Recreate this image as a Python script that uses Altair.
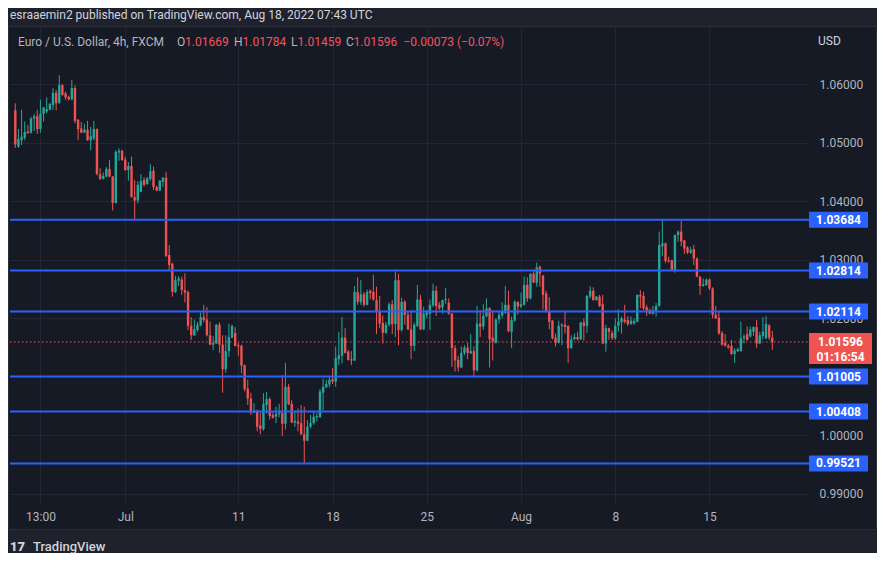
import altair as alt
import pandas as pd

# ---------------- data ----------------
opens = [
    1.0555, 1.0493, 1.0504, 1.0508, 1.0519, 1.0517, 1.0541, 1.0545, 1.0523, 1.0549,
    1.0553, 1.0556, 1.0564, 1.0585, 1.0568, 1.0598, 1.0584, 1.0578, 1.0574, 1.0593,
    1.0539, 1.0524, 1.0517, 1.0522, 1.0504, 1.0507, 1.0523, 1.0446, 1.0438, 1.0442,
    1.0455, 1.0442, 1.0397, 1.0483, 1.0486, 1.0471, 1.0453, 1.0460, 1.0407, 1.0401,
    1.0416, 1.0436, 1.0429, 1.0438, 1.0452, 1.0424, 1.0418, 1.0433, 1.0440, 1.0308,
    1.0293, 1.0245, 1.0264, 1.0266, 1.0248, 1.0245,
    1.0187, 1.0171, 1.0180, 1.0188, 1.0202, 1.0198, 1.0171, 1.0155, 1.0157, 1.0189,
    1.0155, 1.0113, 1.0144, 1.0167, 1.0175, 1.0154, 1.0153, 1.0120, 1.0080, 1.0063,
    1.0039, 1.0042, 1.0017, 1.0011, 1.0052, 1.0062, 1.0035, 1.0032, 1.0037, 1.0038,
    1.0020, 1.0083, 1.0054, 1.0022, 1.0024, 1.0021, 1.0002, 0.9991, 1.0015, 1.0021,
    1.0031, 1.0031, 1.0073, 1.0082, 1.0087, 1.0096, 1.0092, 1.0130, 1.0136, 1.0167,
    1.0143,
    1.0130, 1.0128, 1.0245, 1.0228, 1.0241, 1.0223, 1.0247, 1.0245, 1.0231, 1.0211,
    1.0192, 1.0175, 1.0189, 1.0224, 1.0190, 1.0265, 1.0180, 1.0228, 1.0206, 1.0181,
    1.0153, 1.0187, 1.0232, 1.0181, 1.0206, 1.0208, 1.0222, 1.0247, 1.0223, 1.0219,
    1.0231, 1.0227, 1.0208, 1.0149, 1.0129, 1.0116, 1.0141, 1.0150, 1.0140, 1.0144,
    1.0111, 1.0191, 1.0186, 1.0203, 1.0217, 1.0167, 1.0158, 1.0198, 1.0205, 1.0209,
    1.0223, 1.0177, 1.0196, 1.0228, 1.0220, 1.0223, 1.0257, 1.0234, 1.0276, 1.0261,
    1.0288, 1.0273, 1.0242, 1.0211, 1.0196, 1.0167, 1.0158, 1.0187, 1.0189, 1.0187,
    1.0149, 1.0164, 1.0168, 1.0164, 1.0193, 1.0187, 1.0237, 1.0247, 1.0231, 1.0237,
    1.0224, 1.0157, 1.0183, 1.0175, 1.0166, 1.0187, 1.0193, 1.0198, 1.0197, 1.0190,
    1.0191, 1.0194, 1.0240, 1.0238, 1.0219, 1.0214, 1.0208, 1.0213, 1.0221, 1.0323,
    1.0328, 1.0299, 1.0299, 1.0282, 1.0342, 1.0348, 1.0333, 1.0321, 1.0312, 1.0318,
    1.0302, 1.0271, 1.0255, 1.0257, 1.0266, 1.0251,
    1.0206, 1.0201, 1.0175, 1.0158, 1.0153, 1.0153, 1.0139, 1.0144, 1.0144, 1.0166,
    1.0173, 1.0169, 1.0177, 1.0185, 1.0157, 1.0170, 1.0166, 1.0188, 1.01669,
]
highs = [
    1.0567, 1.0523, 1.0556, 1.0536, 1.0530, 1.0544, 1.0549, 1.0556, 1.0573, 1.0561,
    1.0577, 1.0568, 1.0593, 1.0590, 1.0615, 1.0600, 1.0587, 1.0580, 1.0607, 1.0598,
    1.0540, 1.0535, 1.0532, 1.0537, 1.0527, 1.0537, 1.0524, 1.0456, 1.0449, 1.0458,
    1.0470, 1.0443, 1.0487, 1.0490, 1.0488, 1.0476, 1.0467, 1.0476, 1.0436, 1.0434,
    1.0446, 1.0441, 1.0441, 1.0463, 1.0459, 1.0426, 1.0436, 1.0441, 1.0450, 1.0325,
    1.0295, 1.0272, 1.0272, 1.0271, 1.0277, 1.0247,
    1.0202, 1.0198, 1.0194, 1.0210, 1.0223, 1.0219, 1.0194, 1.0170, 1.0190, 1.0193,
    1.0171, 1.0171, 1.0191, 1.0189, 1.0185, 1.0158, 1.0155, 1.0121, 1.0095, 1.0073,
    1.0055, 1.0044, 1.0039, 1.0072, 1.0074, 1.0065, 1.0039, 1.0049, 1.0054, 1.0103,
    1.0124, 1.0088, 1.0060, 1.0043, 1.0046, 1.0052, 1.0049, 1.0026, 1.0035, 1.0041,
    1.0038, 1.0079, 1.0097, 1.0095, 1.0100, 1.0115, 1.0152, 1.0177, 1.0202, 1.0183,
    1.0146,
    1.0144, 1.0255, 1.0270, 1.0265, 1.0245, 1.0249, 1.0249, 1.0274, 1.0254, 1.0238,
    1.0205, 1.0194, 1.0227, 1.0231, 1.0280, 1.0276, 1.0235, 1.0231, 1.0211, 1.0214,
    1.0193, 1.0257, 1.0240, 1.0220, 1.0214, 1.0232, 1.0259, 1.0255, 1.0228, 1.0232,
    1.0252, 1.0234, 1.0209, 1.0154, 1.0136, 1.0152, 1.0154, 1.0158, 1.0173, 1.0152,
    1.0221, 1.0214, 1.0224, 1.0234, 1.0219, 1.0214, 1.0200, 1.0211, 1.0227, 1.0255,
    1.0247, 1.0203, 1.0231, 1.0229, 1.0244, 1.0271, 1.0270, 1.0277, 1.0283, 1.0295,
    1.0290, 1.0274, 1.0247, 1.0236, 1.0197, 1.0174, 1.0196, 1.0192, 1.0211, 1.0188,
    1.0171, 1.0174, 1.0177, 1.0194, 1.0200, 1.0240, 1.0255, 1.0253, 1.0238, 1.0240,
    1.0240, 1.0189, 1.0184, 1.0179, 1.0200, 1.0215, 1.0203, 1.0223, 1.0204, 1.0203,
    1.0200, 1.0241, 1.0248, 1.0245, 1.0223, 1.0217, 1.0221, 1.0226, 1.0348, 1.0369,
    1.0329, 1.0305, 1.0300, 1.0343, 1.0350, 1.0367, 1.0334, 1.0323, 1.0322, 1.0325,
    1.0304, 1.0272, 1.0268, 1.0268, 1.0268, 1.0253,
    1.0221, 1.0213, 1.0178, 1.0173, 1.0156, 1.0163, 1.0149, 1.0150, 1.0194, 1.0173,
    1.0186, 1.0186, 1.0186, 1.0197, 1.0177, 1.0202, 1.0204, 1.0190, 1.01784,
]
lows = [
    1.0491, 1.0491, 1.0496, 1.0504, 1.0515, 1.0515, 1.0520, 1.0515, 1.0517, 1.0536,
    1.0550, 1.0555, 1.0556, 1.0555, 1.0566, 1.0580, 1.0573, 1.0572, 1.0572, 1.0533,
    1.0504, 1.0516, 1.0516, 1.0503, 1.0487, 1.0504, 1.0444, 1.0436, 1.0437, 1.0441,
    1.0441, 1.0384, 1.0396, 1.0469, 1.0469, 1.0452, 1.0435, 1.0406, 1.0367, 1.0396,
    1.0415, 1.0425, 1.0428, 1.0435, 1.0419, 1.0417, 1.0417, 1.0425, 1.0305, 1.0282,
    1.0237, 1.0243, 1.0255, 1.0240, 1.0227, 1.0180,
    1.0163, 1.0170, 1.0177, 1.0186, 1.0193, 1.0169, 1.0154, 1.0146, 1.0156, 1.0141,
    1.0073, 1.0107, 1.0134, 1.0166, 1.0152, 1.0136, 1.0106, 1.0075, 1.0052, 1.0035,
    1.0038, 1.0007, 1.0002, 1.0008, 1.0037, 1.0027, 1.0029, 1.0021, 1.0031, 0.9999,
    1.0010, 1.0052, 1.0021, 1.0015, 1.0007, 1.0001, 0.9953, 0.9990, 1.0012, 1.0018,
    1.0024, 1.0030, 1.0043, 1.0081, 1.0082, 1.0088, 1.0083, 1.0120, 1.0123, 1.0140,
    1.0128,
    1.0120, 1.0127, 1.0223, 1.0223, 1.0220, 1.0222, 1.0232, 1.0230, 1.0173, 1.0183,
    1.0157, 1.0174, 1.0186, 1.0173, 1.0168, 1.0154, 1.0177, 1.0189, 1.0180, 1.0130,
    1.0144, 1.0185, 1.0180, 1.0180, 1.0200, 1.0180, 1.0219, 1.0204, 1.0214, 1.0208,
    1.0225, 1.0206, 1.0117, 1.0109, 1.0109, 1.0115, 1.0137, 1.0130, 1.0139, 1.0099,
    1.0109, 1.0168, 1.0180, 1.0203, 1.0116, 1.0128, 1.0157, 1.0191, 1.0200, 1.0208,
    1.0176, 1.0149, 1.0194, 1.0206, 1.0217, 1.0222, 1.0228, 1.0232, 1.0260, 1.0254,
    1.0254, 1.0215, 1.0210, 1.0181, 1.0164, 1.0152, 1.0157, 1.0154, 1.0174, 1.0124,
    1.0148, 1.0163, 1.0162, 1.0163, 1.0162, 1.0175, 1.0234, 1.0230, 1.0230, 1.0219,
    1.0156, 1.0143, 1.0163, 1.0163, 1.0163, 1.0177, 1.0174, 1.0191, 1.0187, 1.0189,
    1.0189, 1.0193, 1.0217, 1.0214, 1.0204, 1.0207, 1.0206, 1.0203, 1.0220, 1.0306,
    1.0294, 1.0295, 1.0281, 1.0278, 1.0331, 1.0323, 1.0310, 1.0310, 1.0310, 1.0291,
    1.0270, 1.0240, 1.0254, 1.0255, 1.0248, 1.0200,
    1.0199, 1.0172, 1.0153, 1.0152, 1.0148, 1.0137, 1.0124, 1.0142, 1.0143, 1.0157,
    1.0162, 1.0167, 1.0170, 1.0149, 1.0156, 1.0164, 1.0164, 1.0163, 1.01459,
]
closes = [
    1.0497, 1.0506, 1.0510, 1.0518, 1.0516, 1.0541, 1.0545, 1.0523, 1.0549, 1.0560,
    1.0557, 1.0566, 1.0585, 1.0567, 1.0598, 1.0581, 1.0577, 1.0574, 1.0593, 1.0537,
    1.0523, 1.0517, 1.0522, 1.0504, 1.0511, 1.0523, 1.0446, 1.0438, 1.0443, 1.0455,
    1.0442, 1.0397, 1.0484, 1.0486, 1.0470, 1.0453, 1.0460, 1.0407, 1.0401, 1.0428,
    1.0434, 1.0428, 1.0439, 1.0451, 1.0424, 1.0418, 1.0435, 1.0440, 1.0306, 1.0291,
    1.0245, 1.0265, 1.0268, 1.0248, 1.0244, 1.0187,
    1.0171, 1.0181, 1.0189, 1.0202, 1.0197, 1.0171, 1.0155, 1.0158, 1.0189, 1.0155,
    1.0113, 1.0144, 1.0168, 1.0187, 1.0153, 1.0152, 1.0119, 1.0079, 1.0063, 1.0039,
    1.0042, 1.0015, 1.0011, 1.0054, 1.0062, 1.0033, 1.0030, 1.0037, 1.0039, 1.0020,
    1.0083, 1.0053, 1.0022, 1.0025, 1.0020, 1.0002, 0.9991, 1.0015, 1.0021, 1.0032,
    1.0033, 1.0075, 1.0083, 1.0088, 1.0095, 1.0092, 1.0132, 1.0137, 1.0167, 1.0141,
    1.0129,
    1.0128, 1.0245, 1.0228, 1.0241, 1.0223, 1.0245, 1.0243, 1.0232, 1.0211, 1.0191,
    1.0175, 1.0189, 1.0224, 1.0190, 1.0265, 1.0180, 1.0228, 1.0206, 1.0181, 1.0153,
    1.0189, 1.0232, 1.0181, 1.0208, 1.0210, 1.0223, 1.0247, 1.0221, 1.0217, 1.0231,
    1.0233, 1.0208, 1.0149, 1.0128, 1.0116, 1.0141, 1.0150, 1.0141, 1.0144, 1.0111,
    1.0191, 1.0186, 1.0204, 1.0217, 1.0164, 1.0160, 1.0198, 1.0206, 1.0211, 1.0223,
    1.0178, 1.0197, 1.0228, 1.0220, 1.0224, 1.0257, 1.0234, 1.0276, 1.0261, 1.0287,
    1.0276, 1.0240, 1.0211, 1.0194, 1.0166, 1.0158, 1.0187, 1.0189, 1.0185, 1.0149,
    1.0164, 1.0168, 1.0164, 1.0193, 1.0187, 1.0238, 1.0247, 1.0231, 1.0237, 1.0221,
    1.0157, 1.0183, 1.0177, 1.0166, 1.0187, 1.0194, 1.0200, 1.0194, 1.0190, 1.0196,
    1.0195, 1.0240, 1.0237, 1.0217, 1.0213, 1.0208, 1.0214, 1.0221, 1.0325, 1.0328,
    1.0298, 1.0297, 1.0282, 1.0342, 1.0348, 1.0331, 1.0319, 1.0312, 1.0317, 1.0302,
    1.0271, 1.0255, 1.0258, 1.0266, 1.0251, 1.0206,
    1.0200, 1.0174, 1.0155, 1.0153, 1.0150, 1.0139, 1.0145, 1.0147, 1.0166, 1.0169,
    1.0163, 1.0181, 1.0185, 1.0157, 1.0171, 1.0177, 1.0190, 1.0167, 1.01596,
]

level_values = [1.03684, 1.02814, 1.02114, 1.01005, 1.00408, 0.99521]
level_labels = ["1.03684", "1.02814", "1.02114", "1.01005", "1.00408", "0.99521"]
price_ticks = [0.99, 1.00, 1.02, 1.03, 1.04, 1.05, 1.06]   # 1.01000 is fully hidden by a level tag
date_tick_pos = [8, 35, 71, 101, 131, 161, 191, 221]
date_tick_labels = ["13:00", "Jul", "11", "18", "25", "Aug", "8", "15"]
last_price = 1.01596
last_price_label = "1.01596"
countdown = "01:16:54"

header_text = "esraaemin2 published on TradingView.com, Aug 18, 2022 07:43 UTC"
symbol_text = "Euro / U.S. Dollar, 4h, FXCM"
ohlc_keys = ["O", "H", "L", "C"]
ohlc_values = ["1.01669", "1.01784", "1.01459", "1.01596"]
change_text = "\u22120.00073 (\u22120.07%)"
currency_text = "USD"
brand_text = "TradingView"

# ---------------- styling ----------------
FONT = "Roboto"
UP = "#26a69a"
DOWN = "#ef5350"
BLUE = "#2962ff"
PANEL = "#161a25"
OUTER = "#1f222d"
GRID = "#232733"
LABEL = "#b2b5be"
TEXT = "#d1d4dc"
RED_TXT = "#f7525f"
PRICE_BOX = "#f05451"

W, H = 798, 475

candles = pd.DataFrame({
    "i": list(range(len(opens))),
    "open": opens, "high": highs, "low": lows, "close": closes,
})
candles["dir"] = ["up" if c >= o else "down" for o, c in zip(opens, closes)]

levels = pd.DataFrame({"level": level_values, "label": level_labels})
last_df = pd.DataFrame({"price": [last_price], "label": [last_price_label], "timer": [countdown]})
ONE = pd.DataFrame({"k": [0]})

XS = alt.Scale(domain=[-0.0943, 250.77], nice=False, zero=False)
YS = alt.Scale(domain=[0.988633, 1.069732], nice=False, zero=False)

label_expr = ""
for p, t in zip(date_tick_pos, date_tick_labels):
    label_expr += f"datum.value == {p} ? '{t}' : "
label_expr += "''"

X_AXIS = alt.Axis(values=date_tick_pos, labelExpr=label_expr, grid=True, gridColor=GRID,
                  gridWidth=1, domain=False, ticks=False, tickSize=0, labelPadding=14,
                  labelBaseline="middle", labelColor=LABEL, labelFont=FONT, labelFontSize=12,
                  labelFlush=False, labelOverlap=False, title=None, zindex=0)
Y_AXIS = alt.Axis(orient="right", values=price_ticks, format=".5f", grid=True, gridColor=GRID,
                  gridWidth=1, domain=False, ticks=False, tickSize=0, labelPadding=11,
                  labelAlign="left", labelBaseline="middle", labelColor=LABEL, labelFont=FONT,
                  labelFontSize=12, labelFlush=False, labelOverlap=False, title=None, zindex=0)

COLOR = alt.Color("dir:N", scale=alt.Scale(domain=["up", "down"], range=[UP, DOWN]), legend=None)


def box(x, x2, y, y2, fill, stroke=None):
    kw = {"fill": fill}
    if stroke is not None:
        kw.update(stroke=stroke, strokeWidth=1)
    return alt.Chart(ONE).mark_rect(**kw).encode(
        x=alt.value(x), x2=alt.value(x2), y=alt.value(y), y2=alt.value(y2))


def txt(text, x, y, color, size=12, weight="normal", align="left"):
    return alt.Chart(ONE).mark_text(text=text, align=align, baseline="middle", color=color,
                                    fontSize=size, fontWeight=weight, font=FONT).encode(
        x=alt.value(x), y=alt.value(y))


layers = []
# outer page frame around the chart panel
layers.append(box(-20, 900, -40, -0.5, OUTER))
layers.append(box(-20, 900, 502.5, 560, OUTER))
layers.append(box(-1.5, 866.5, -0.5, 502.5, "transparent", stroke="#2a2e39"))

# last-price dotted line
layers.append(alt.Chart(last_df).mark_rule(color=PRICE_BOX, strokeWidth=1, strokeDash=[1.5, 2.5]).encode(
    y=alt.Y("price:Q", scale=YS, axis=Y_AXIS), x=alt.value(0), x2=alt.value(W)))

# candles
layers.append(alt.Chart(candles).mark_rule(strokeWidth=1, clip=True).encode(
    x=alt.X("i:Q", scale=XS, axis=X_AXIS),
    y=alt.Y("low:Q", scale=YS, axis=Y_AXIS), y2="high:Q", color=COLOR))
layers.append(alt.Chart(candles).mark_bar(size=2.4, clip=True).encode(
    x=alt.X("i:Q", scale=XS, axis=X_AXIS),
    y=alt.Y("open:Q", scale=YS, axis=Y_AXIS), y2="close:Q", color=COLOR))

# horizontal levels
layers.append(alt.Chart(levels).mark_rule(color=BLUE, strokeWidth=2).encode(
    y=alt.Y("level:Q", scale=YS, axis=Y_AXIS), x=alt.value(0), x2=alt.value(800)))
layers.append(alt.Chart(levels).mark_rect(color=BLUE, yOffset=-8, y2Offset=8).encode(
    y=alt.Y("level:Q", scale=YS, axis=Y_AXIS), y2=alt.Y2("level:Q"),
    x=alt.value(799), x2=alt.value(858)))
layers.append(alt.Chart(levels).mark_text(color="#ffffff", fontSize=12, fontWeight="bold",
                                          font=FONT, align="center", baseline="middle").encode(
    y=alt.Y("level:Q", scale=YS, axis=Y_AXIS), x=alt.value(828.5), text="label:N"))

# last price tag
layers.append(alt.Chart(last_df).mark_rect(color=PRICE_BOX, yOffset=-9, y2Offset=22).encode(
    y=alt.Y("price:Q", scale=YS, axis=Y_AXIS), y2=alt.Y2("price:Q"),
    x=alt.value(799), x2=alt.value(862)))
layers.append(alt.Chart(last_df).mark_text(color="#ffffff", fontSize=12, fontWeight="bold",
                                           font=FONT, align="center", baseline="middle").encode(
    y=alt.Y("price:Q", scale=YS, axis=Y_AXIS), x=alt.value(830.5), text="label:N"))
layers.append(alt.Chart(last_df).mark_text(color="#ffffff", fontSize=12, fontWeight="bold",
                                           font=FONT, align="center", baseline="middle", dy=15).encode(
    y=alt.Y("price:Q", scale=YS, axis=Y_AXIS), x=alt.value(830.5), text="timer:N"))

# header, legend line and branding
layers.append(txt(header_text, 0, -12, TEXT, size=12))
layers.append(txt(symbol_text, 8, 15, LABEL, size=12))
key_x = [167, 224, 281, 336]
val_x = [175, 232.5, 287.5, 343.5]
for k, v, kx, vx in zip(ohlc_keys, ohlc_values, key_x, val_x):
    layers.append(txt(k, kx, 15, LABEL, size=12))
    layers.append(txt(v, vx, 15, RED_TXT, size=12))
layers.append(txt(change_text, 393.5, 15, RED_TXT, size=12))
layers.append(txt(currency_text, 808, 14, TEXT, size=12))
layers.append(txt("17", 0, 520, TEXT, size=13, weight=900))
layers.append(txt(brand_text, 23, 520, TEXT, size=13, weight=500))

chart = alt.layer(*layers).properties(
    width=W, height=H,
    padding={"left": 2, "top": 19, "right": 69, "bottom": 51},
    autosize=alt.AutoSizeParams(type="none"),
    background=PANEL,
).configure_view(stroke=None)

chart.save("out.html", embed_options={"renderer": "svg", "actions": False})
